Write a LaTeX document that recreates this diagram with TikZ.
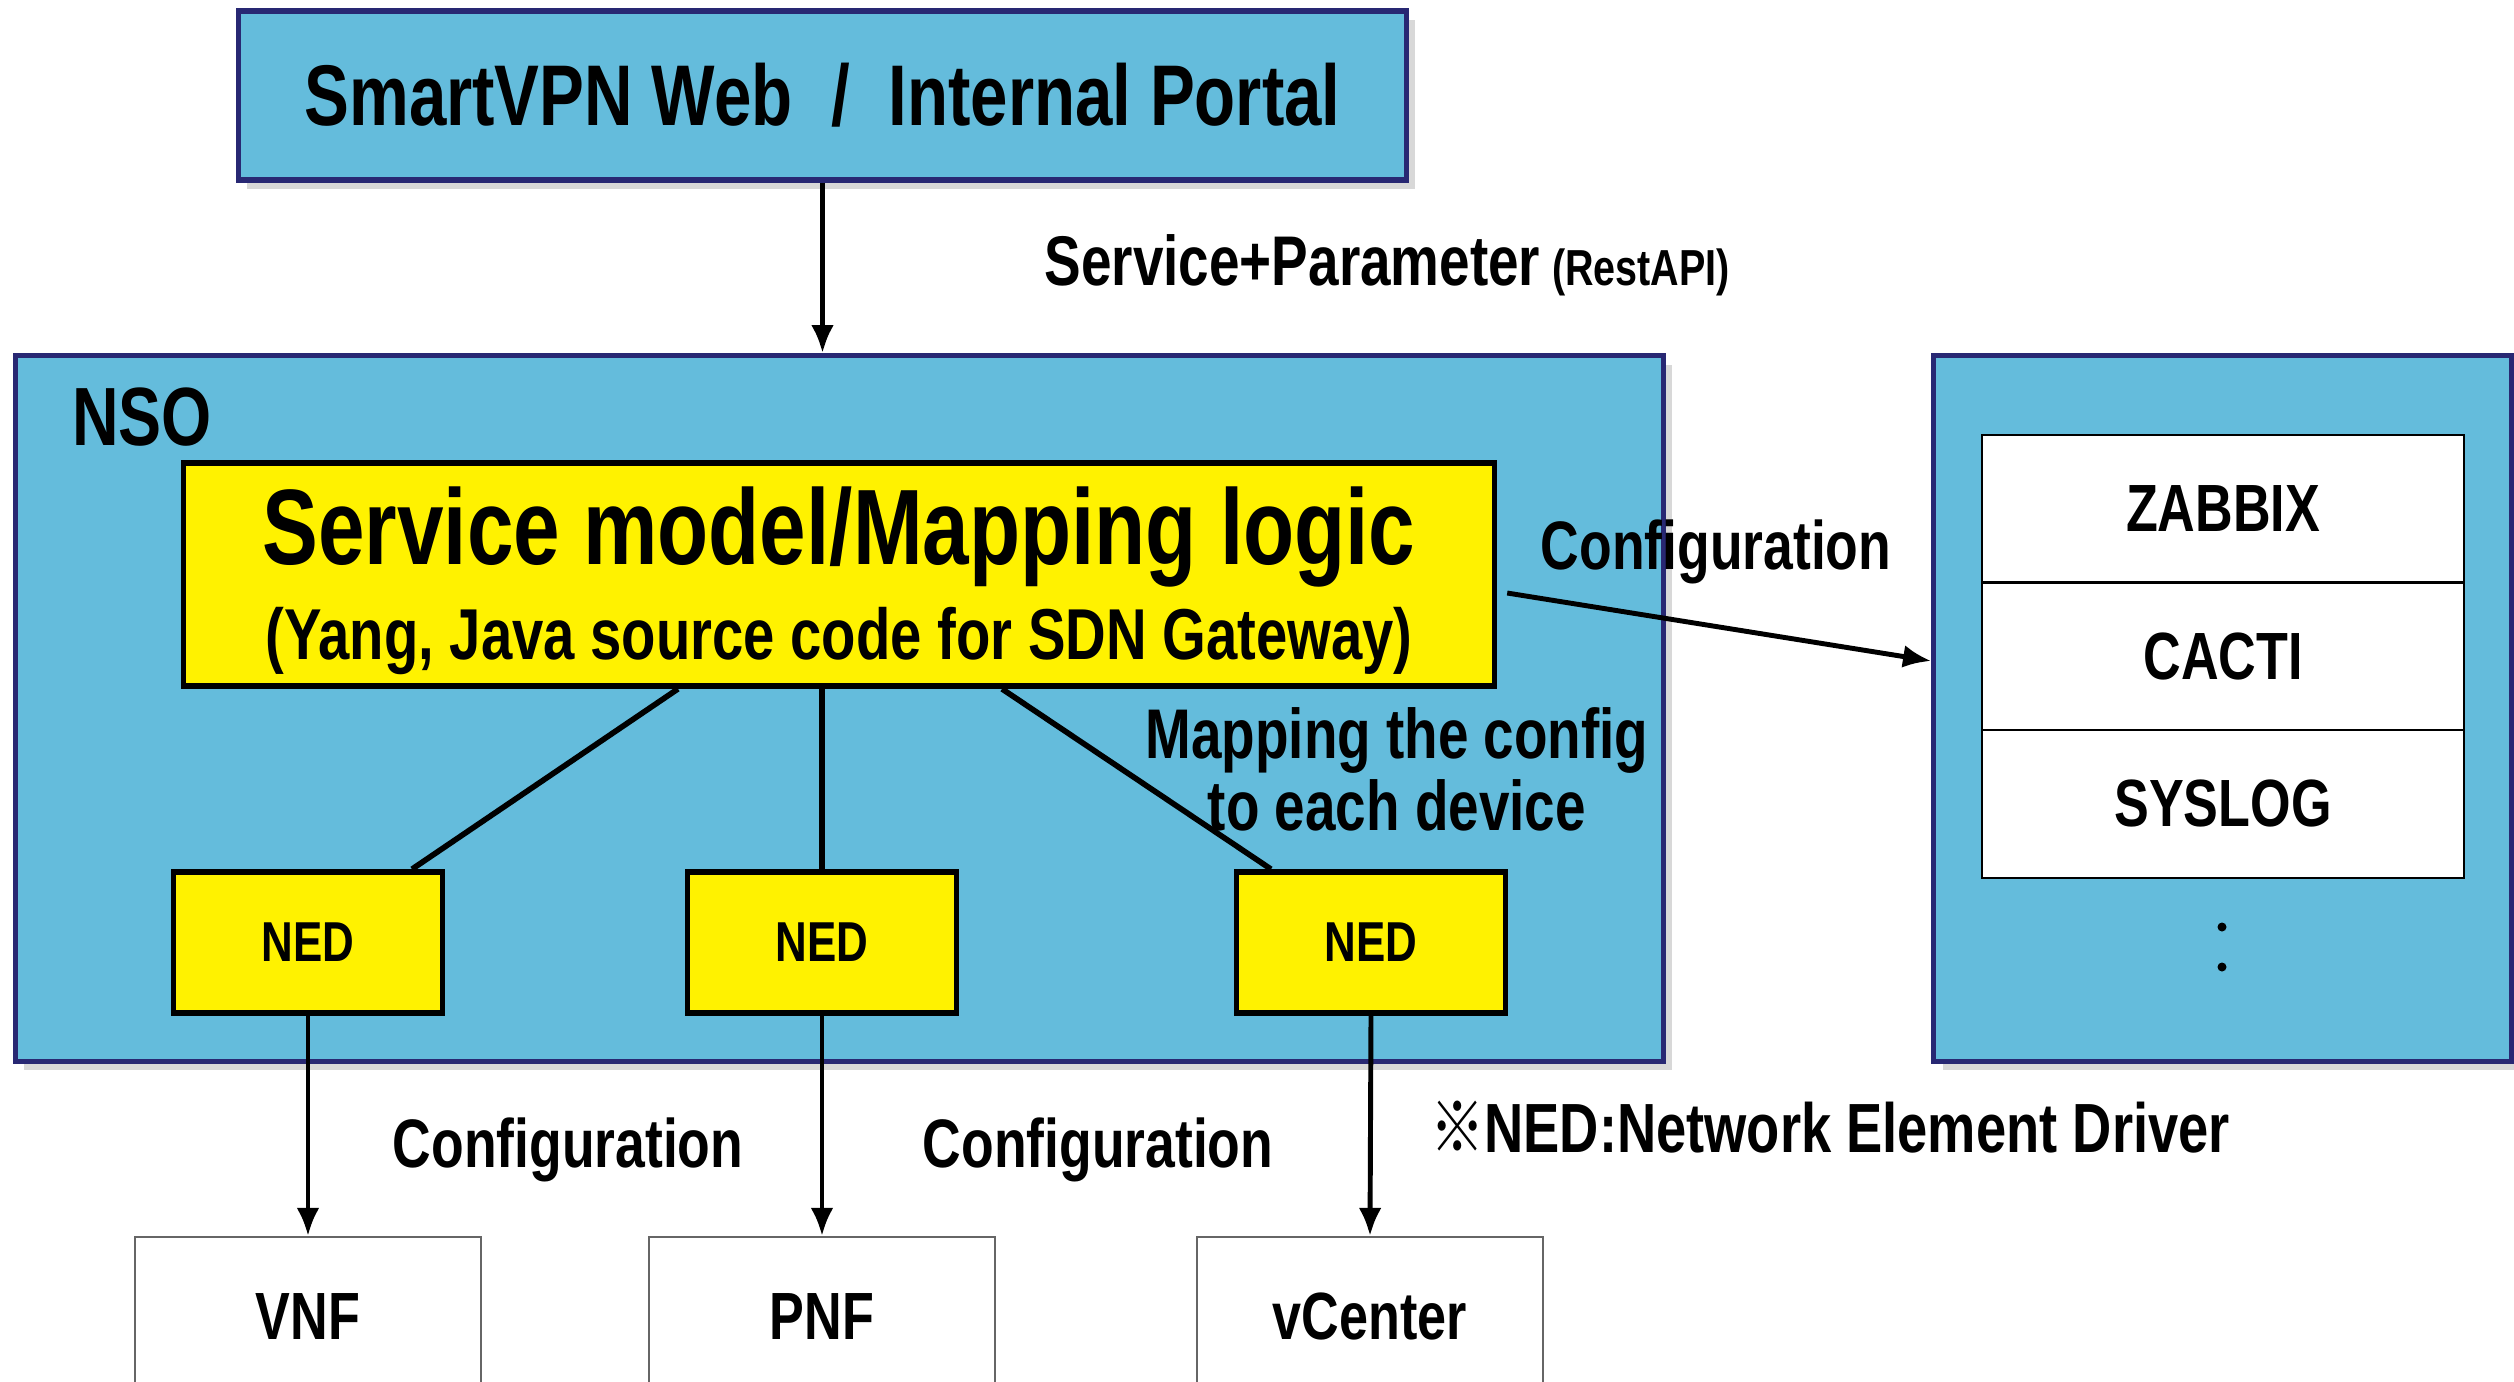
\documentclass[tikz,border=0pt]{standalone}
\usepackage{fontspec}
\setmainfont{Liberation Sans}[FakeStretch=0.78]
\newfontfamily\jpfont{Noto Sans CJK JP}[FakeStretch=0.78]
\usetikzlibrary{arrows.meta,shadows}
\definecolor{boxblue}{RGB}{100,188,220}
\definecolor{navy}{RGB}{40,40,115}
\newcommand{\fsz}[1]{\fontsize{#1}{#1}\selectfont\bfseries}
\begin{document}
\begin{tikzpicture}[x=0.01cm,y=-0.01cm,
  bluebox/.style={draw=navy, line width=1.5pt, fill=boxblue, inner sep=0pt,
    drop shadow={shadow xshift=2.5pt, shadow yshift=-2.5pt, opacity=0.3}},
  yelbox/.style={draw=black, line width=1.6pt, fill=yellow, inner sep=0pt},
  nedbox/.style={draw=black, line width=1.6pt, fill=yellow, inner sep=0pt,
    minimum width=2.69cm, minimum height=1.41cm, font=\fsz{16}},
  devbox/.style={draw=black!60, line width=0.5pt, fill=white, inner sep=0pt,
    minimum width=3.46cm, minimum height=1.6cm, anchor=north, font=\fsz{19}},
  rowbox/.style={draw=black, line width=0.6pt, fill=white, inner sep=0pt,
    minimum width=4.82cm, minimum height=1.475cm, font=\fsz{19}},
  lbl/.style={inner sep=0pt, font=\fsz{19.5}},
  conn/.style={line width=1.6pt},
  arr/.style={line width=1.4pt, -{Latex[length=8pt,width=6.5pt]}}]
\clip (0,0) rectangle (2514,1381);
\useasboundingbox (0,0) rectangle (2514,1381);
\fill[white] (0,0) rectangle (2514,1381);

% top portal
\node[bluebox, minimum width=11.67cm, minimum height=1.69cm, font=\fsz{24.5}] (top) at (822.5,95.5)
  {SmartVPN Web\hspace{0.45em}/\hspace{0.45em}Internal Portal};

% NSO container
\node[bluebox, minimum width=16.47cm, minimum height=7.05cm] (nso) at (839.5,708.5) {};
\node[inner sep=0pt, font=\fsz{23.5}] (nsolabel) at (142,417) {NSO};

% right container
\node[bluebox, minimum width=5.77cm, minimum height=7.05cm] (rbox) at (2222.5,708.5) {};
\node[rowbox] (zabbix) at (2223,508.75) {ZABBIX};
\node[rowbox] (cacti) at (2223,656.25) {CACTI};
\node[rowbox] (syslog) at (2223,803.75) {SYSLOG};
\fill (2222,927) circle[radius=0.045cm];
\fill (2222,967) circle[radius=0.045cm];

% service model
\node[yelbox, minimum width=13.10cm, minimum height=2.23cm] (svc) at (839,574.5) {};
\node[inner sep=0pt, font=\fsz{30.5}] (svc1) at (839,537) {Service model/Mapping logic};
\node[inner sep=0pt, font=\fsz{20.5}] (svc2) at (839,641) {(Yang, Java source code for SDN Gateway)};

% NEDs
\node[nedbox] (ned1) at (308,942.5) {NED};
\node[nedbox] (ned2) at (822,942.5) {NED};
\node[nedbox] (ned3) at (1371,942.5) {NED};

% devices
\node[devbox] (vnf) at (308,1236) {VNF};
\node[devbox] (pnf) at (822,1236) {PNF};
\node[devbox] (vcenter) at (1370,1236) {vCenter};

% connectors
\draw[arr] (top.south) -- (nso.north -| top.south);
\draw[conn] (svc.south -| 678,0) -- (ned1.north -| 412,0);
\draw[conn] (svc.south -| 822,0) -- (ned2.north);
\draw[conn] (svc.south -| 1002,0) -- (ned3.north -| 1271,0);
\draw[arr] (ned1.south) -- (vnf.north);
\draw[arr] (ned2.south) -- (pnf.north);
\draw[arr] (ned3.south) -- (vcenter.north);
\draw[arr] ([xshift=0.1cm,yshift=-0.185cm]svc.east) -- ([yshift=0.475cm]rbox.west);

% labels
\node[inner sep=0pt, anchor=west, font=\fsz{20}] (sp) at (1044,265)
  {Service+Parameter\,{\fsz{14.4}(RestAPI)}};
\node[lbl] (cfg1) at (568,1150) {Configuration};
\node[lbl] (cfg2) at (1098,1150) {Configuration};
\node[lbl] (cfg3) at (1716,552) {Configuration};
\node[lbl, align=center, font=\fontsize{20}{20.5}\selectfont\bfseries] (map) at (1397,769)
  {Mapping the config\\to each device};
\node[lbl, font=\fsz{19.8}] (note) at (1830,1127) {{\jpfont ※}NED:Network Element Driver};
\end{tikzpicture}
\end{document}
